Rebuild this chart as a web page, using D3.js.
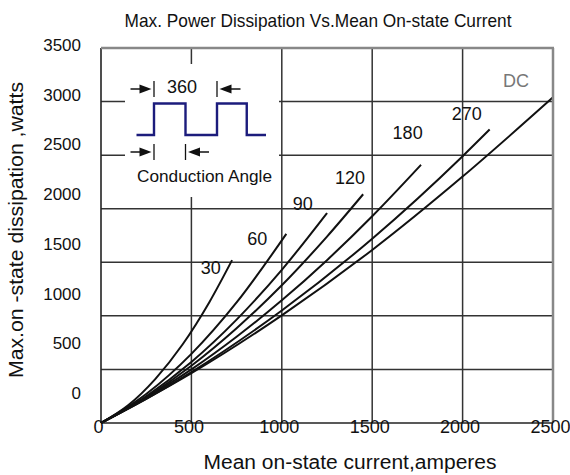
<!DOCTYPE html>
<html>
<head>
<meta charset="utf-8">
<script src="https://cdn.jsdelivr.net/npm/d3@7"></script>
<style>
  body { margin: 0; background: #fff; }
  svg { display: block; font-family: "Liberation Sans", Arial, sans-serif; }
</style>
</head>
<body>
<div id="chart"></div>
<script>
// axis ticks
const currentTicks = [0, 500, 1000, 1500, 2000, 2500];
const powerTicks = [0, 500, 1000, 1500, 2000, 2500, 3000, 3500];

// curves: mean current (A) -> max power (W)
const current30 = [0, 150, 300, 450, 600, 725];
const power30 = [0, 165, 410, 730, 1130, 1520];
const current60 = [0, 250, 500, 750, 1025];
const power60 = [0, 270, 645, 1125, 1765];
const current90 = [0, 250, 500, 750, 1000, 1250];
const power90 = [0, 250, 570, 965, 1430, 1960];
const current120 = [0, 250, 500, 750, 1000, 1250, 1450];
const power120 = [0, 240, 535, 885, 1285, 1740, 2135];
const current180 = [0, 250, 500, 750, 1000, 1250, 1500, 1770];
const power180 = [0, 235, 500, 805, 1145, 1520, 1930, 2410];
const current270 = [0, 250, 500, 1000, 1500, 2000, 2150];
const power270 = [0, 225, 475, 1050, 1720, 2490, 2740];
const currentDC = [0, 250, 500, 1000, 1500, 2000, 2500];
const powerDC = [0, 225, 465, 1005, 1615, 2300, 3040];

const curveNames = ["30", "60", "90", "120", "180", "270", "DC"];
const curveCurrents = [current30, current60, current90, current120, current180, current270, currentDC];
const curvePowers = [power30, power60, power90, power120, power180, power270, powerDC];
// where each curve label sits (A, W)
const labelCurrent = [607, 864, 1116, 1377, 1696, 2023, 2295];
const labelPower = [1453, 1724, 2044, 2287, 2710, 2891, 3195];

const w = 570, h = 475;
const font = "'Liberation Sans', Arial, sans-serif";

let xScale = d3.scaleLinear().domain([0, 2500]).range([101, 553]);
let yScale = d3.scaleLinear().domain([0, 3500]).range([423, 48]);
// the tick labels in the original sit a bit off the grid
let yLabelScale = d3.scaleLinear().domain([0, 3500]).range([393, 45]);

let svg = d3.select("#chart")
            .append("svg")
            .attr("width", w)
            .attr("height", h);

svg.append("rect").attr("width", w).attr("height", h).attr("fill", "#fff");

//grid
let grid = svg.append("g").attr("stroke", "#333").attr("stroke-width", 1.5);
grid.selectAll(".vg")
    .data(currentTicks.slice(1, -1))
    .enter()
    .append("line")
    .attr("x1", d => xScale(d)).attr("x2", d => xScale(d))
    .attr("y1", yScale(3500)).attr("y2", yScale(0));
grid.selectAll(".hg")
    .data(powerTicks.slice(1, -1))
    .enter()
    .append("line")
    .attr("x1", xScale(0)).attr("x2", xScale(2500))
    .attr("y1", d => yScale(d)).attr("y2", d => yScale(d));

//inset with the conduction angle sketch
let deg = d3.scaleLinear().domain([0, 360]).range([154, 217]);
let level = d3.scaleLinear().domain([0, 1]).range([135, 103.5]);

svg.append("rect")
    .attr("x", 125).attr("y", 64)
    .attr("width", 154).attr("height", 133)
    .attr("fill", "#fff");

let wave = [[-100, 0], [0, 0], [0, 1], [180, 1], [180, 0], [360, 0], [360, 1], [530, 1], [530, 0], [640, 0]];
svg.append("path")
    .attr("d", d3.line().x(d => deg(d[0])).y(d => level(d[1]))(wave))
    .attr("fill", "none")
    .attr("stroke", "#1c1c7c")
    .attr("stroke-width", 2.4);

function marker(atDeg, yMid, dir) {
    // bar
    svg.append("line")
        .attr("x1", deg(atDeg)).attr("x2", deg(atDeg))
        .attr("y1", yMid - 8).attr("y2", yMid + 8)
        .attr("stroke", "#111").attr("stroke-width", 1.3);
    let tip = deg(atDeg) - dir * 2.5;
    let tail = tip - dir * 21;
    svg.append("line")
        .attr("x1", tail).attr("x2", tip - dir * 8)
        .attr("y1", yMid).attr("y2", yMid)
        .attr("stroke", "#111").attr("stroke-width", 1.5);
    svg.append("path")
        .attr("d", `M${tip},${yMid} L${tip - dir * 12},${yMid - 4.5} L${tip - dir * 12},${yMid + 4.5} Z`)
        .attr("fill", "#111");
}
marker(0, 89, 1);
marker(360, 89, -1);
marker(0, 152, 1);
marker(180, 152, -1);

svg.append("text")
    .attr("x", deg(160)).attr("y", 93)
    .attr("text-anchor", "middle")
    .attr("font-family", font).attr("font-size", "18px").attr("fill", "#111")
    .text("360");

svg.append("text")
    .attr("x", 137).attr("y", 182)
    .attr("textLength", 135).attr("lengthAdjust", "spacingAndGlyphs")
    .attr("font-family", font).attr("font-size", "17px").attr("fill", "#111")
    .text("Conduction Angle");

//curves
let line = d3.line()
             .x(d => xScale(d[0]))
             .y(d => yScale(d[1]))
             .curve(d3.curveMonotoneX);

svg.append("g")
    .selectAll("path")
    .data(curveNames.map((n, i) => curveCurrents[i].map((c, j) => [c, curvePowers[i][j]])))
    .enter()
    .append("path")
    .attr("d", line)
    .attr("fill", "none")
    .attr("stroke", "#111")
    .attr("stroke-width", 2);

svg.append("g")
    .selectAll("text")
    .data(curveNames)
    .enter()
    .append("text")
    .attr("x", (d, i) => xScale(labelCurrent[i]))
    .attr("y", (d, i) => yScale(labelPower[i]))
    .attr("dy", "0.35em")
    .attr("text-anchor", "middle")
    .attr("font-family", font)
    .attr("font-size", "18px")
    .attr("fill", d => d === "DC" ? "#777" : "#111")
    .text(d => d);

//frame
svg.append("line")
    .attr("x1", xScale(0)).attr("x2", xScale(0))
    .attr("y1", yScale(3500)).attr("y2", yScale(0))
    .attr("stroke", "#222").attr("stroke-width", 1.6);
svg.append("line")
    .attr("x1", xScale(0)).attr("x2", xScale(2500))
    .attr("y1", yScale(0)).attr("y2", yScale(0))
    .attr("stroke", "#222").attr("stroke-width", 1.6);
svg.append("line")
    .attr("x1", xScale(0)).attr("x2", xScale(2500) + 1)
    .attr("y1", yScale(3500)).attr("y2", yScale(3500))
    .attr("stroke", "#888").attr("stroke-width", 2.5);
svg.append("line")
    .attr("x1", xScale(2500)).attr("x2", xScale(2500))
    .attr("y1", yScale(3500)).attr("y2", yScale(0))
    .attr("stroke", "#888").attr("stroke-width", 2.5);

//tick labels
let xAxis = d3.axisBottom(xScale).tickValues(currentTicks).tickSize(0).tickPadding(0).tickFormat(d3.format("d"));
let yAxis = d3.axisLeft(yLabelScale).tickValues(powerTicks).tickSize(0).tickPadding(0).tickFormat(d3.format("d"));

svg.append("g")
    .attr("transform", "translate(-3, 420)")
    .call(xAxis)
    .call(g => g.select(".domain").remove())
    .selectAll("text")
    .attr("font-family", font)
    .attr("font-size", "18px")
    .attr("fill", "#111");

svg.append("g")
    .attr("transform", "translate(81, 0)")
    .call(yAxis)
    .call(g => g.select(".domain").remove())
    .selectAll("text")
    .attr("font-family", font)
    .attr("font-size", "17px")
    .attr("fill", "#111");

//titles
svg.append("text")
    .attr("x", 318).attr("y", 27)
    .attr("text-anchor", "middle")
    .attr("textLength", 387).attr("lengthAdjust", "spacingAndGlyphs")
    .attr("font-family", font).attr("font-size", "19px").attr("fill", "#111")
    .text("Max. Power Dissipation Vs.Mean On-state Current");

svg.append("text")
    .attr("x", 350).attr("y", 469)
    .attr("text-anchor", "middle")
    .attr("textLength", 293).attr("lengthAdjust", "spacingAndGlyphs")
    .attr("font-family", font).attr("font-size", "20px").attr("fill", "#111")
    .text("Mean on-state current,amperes");

svg.append("text")
    .attr("transform", "translate(23, 230) rotate(-90)")
    .attr("text-anchor", "middle")
    .attr("textLength", 296).attr("lengthAdjust", "spacingAndGlyphs")
    .attr("font-family", font).attr("font-size", "20px").attr("fill", "#111")
    .text("Max.on -state dissipation ,watts");
</script>
</body>
</html>
